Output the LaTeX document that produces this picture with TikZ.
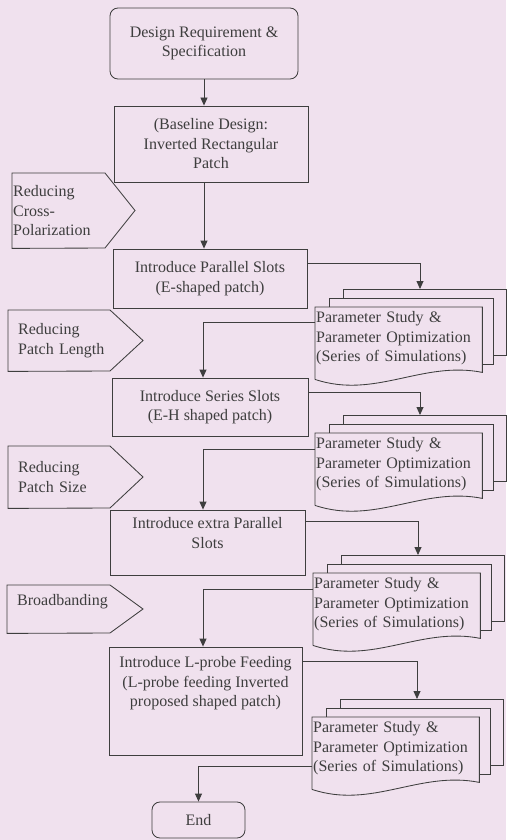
\documentclass[tikz,border=0pt]{standalone}
\usepackage{fontspec}
\setmainfont{Liberation Serif}
\usetikzlibrary{arrows.meta,calc}
\definecolor{paper}{RGB}{240,225,238}
\definecolor{ink}{RGB}{62,62,62}
\newcommand{\flowfont}{\fontsize{16}{19.5}\selectfont}

\begin{document}
\begin{tikzpicture}[x=1pt,y=-1pt,
	>={Triangle[length=8pt,width=7pt]},
	wire/.style={draw=ink, line width=0.85pt},
	box/.style={wire, align=center, inner sep=2pt, text=ink, font=\flowfont},
	term/.style={box, rounded corners=8pt},
	tag/.style={anchor=north west, align=left, text width=95pt, inner ysep=0pt, text=ink, font=\flowfont},
	doc/.style={anchor=north west, align=left, text width=165pt, inner xsep=1pt, inner ysep=0pt, minimum height=62pt, text=ink, font=\flowfont}]
		\fill[paper] (0,0) rectangle (506,840);
		\useasboundingbox (0,0) rectangle (506,840);
		\coordinate (spine) at (203,0);
		% main column
		\node[term, minimum width=188pt, minimum height=71pt] (start) at (204,43.5) {Design Requirement \&\\Specification};
		\node[box, minimum width=194pt, minimum height=76pt] (base) at (211,144) {(Baseline Design:\\Inverted Rectangular\\Patch};
		\node[box, minimum width=194pt, minimum height=59pt] (parallel) at (210,278.5) {Introduce Parallel Slots\\(E-shaped patch)};
		\node[box, minimum width=196pt, minimum height=58pt] (series) at (210,407) {Introduce Series Slots\\(E-H shaped patch)};
		\node[box, minimum width=195pt, minimum height=65pt] (extra) at (207.5,542.5) {Introduce extra Parallel\\Slots\\~};
		\node[box, minimum width=193pt, minimum height=108pt] (lprobe) at (205.5,701) {Introduce L-probe Feeding\\(L-probe feeding Inverted\\proposed shaped patch)\\~\\~};
		\node[term, minimum width=93pt, minimum height=36pt] (finish) at (198.5,820) {End};
		\draw[wire,->] (start.south) -- (start.south |- base.north);
		\draw[wire,->] (base.south -| start.south) -- (start.south |- parallel.north);
		% left tags
		\node[tag, inner xsep=1pt, minimum height=75pt] (cross) at (12,173) {Reducing\\Cross-\\Polarization};
		\draw[wire] (cross.north west) -- ++(93,0) -- ++(30,37.5) -- ++(-30,37.5) -- (cross.south west) -- cycle;
		\node[tag, inner xsep=10pt, minimum height=61pt] (length) at (8,310) {Reducing\\Patch Length};
		\draw[wire] (length.north west) -- ++(102,0) -- ++(33,30.5) -- ++(-33,30.5) -- (length.south west) -- cycle;
		\node[tag, inner xsep=10pt, minimum height=62pt] (size) at (8,446) {Reducing\\Patch Size};
		\draw[wire] (size.north west) -- ++(102,0) -- ++(33,31) -- ++(-33,31) -- (size.south west) -- cycle;
		\node[tag, inner xsep=10pt, minimum height=48pt, text depth=18pt] (broad) at (7,585) {Broadbanding};
		\draw[wire] (broad.north west) -- ++(103,0) -- ++(33,24) -- ++(-33,24) -- (broad.south west) -- cycle;
		% simulation stacks
		\node[doc] (study1) at (315,307) {Parameter Study \&\\Parameter Optimization\\(Series of Simulations)};
		\node[doc] (study2) at (315,433) {Parameter Study \&\\Parameter Optimization\\(Series of Simulations)};
		\node[doc] (study3) at (313,573) {Parameter Study \&\\Parameter Optimization\\(Series of Simulations)};
		\node[doc] (study4) at (312,717) {Parameter Study \&\\Parameter Optimization\\(Series of Simulations)};
		\foreach \s in {study1,study2,study3,study4} {
			\draw[wire] ($(\s.south west)+(0,10)$) -- (\s.north west) -- (\s.north east) -- ($(\s.south east)+(0,3)$)
				.. controls ($(\s.south east)+(-60,-9)$) and ($(\s.south west)+(60,30)$) .. ($(\s.south west)+(0,10)$);
			\draw[wire] ($(\s.north west)+(14,0)$) -- ++(0,-9) -| ($(\s.south east)+(11,-5)$) -- ($(\s.south east)+(0,-5)$);
			\draw[wire] ($(\s.north west)+(28,-9)$) -- ++(0,-9) -| ($(\s.south east)+(24,-14)$) -- ($(\s.south east)+(11,-14)$);
			\coordinate (\s-in) at ($(\s.north west)+(105,-18)$);
		}
		% loops through the simulations
		\draw[wire,->] ([yshift=-15pt]parallel.north east) -| (study1-in);
		\draw[wire,->] ([yshift=-15pt]study1.north west) -| (spine |- series.north);
		\draw[wire,->] ([yshift=-15pt]series.north east) -| (study2-in);
		\draw[wire,->] ([yshift=-16pt]study2.north west) -| (spine |- extra.north);
		\draw[wire,->] ([yshift=-12pt]extra.north east) -| (study3-in);
		\draw[wire,->] ([yshift=-16pt]study3.north west) -| (spine |- lprobe.north);
		\draw[wire,->] ([yshift=-15pt]lprobe.north east) -| (study4-in);
		\draw[wire,->] ([yshift=-49pt]study4.north west) -| (finish.north);
	\end{tikzpicture}
\end{document}
